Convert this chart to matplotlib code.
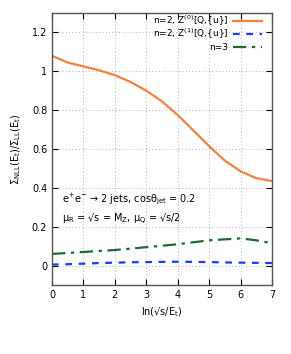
import numpy as np
import matplotlib
matplotlib.use("Agg")
import matplotlib.pyplot as plt

# values
x = [0, 0.5, 1, 1.5, 2, 2.5, 3, 3.5, 4, 4.5, 5, 5.5, 6, 6.5, 7]
z0 = [1.08, 1.045, 1.025, 1.005, 0.98, 0.945, 0.90, 0.845, 0.775, 0.695, 0.615, 0.54, 0.485, 0.45, 0.435]
z1 = [0.005, 0.007, 0.01, 0.013, 0.015, 0.017, 0.018, 0.019, 0.02, 0.019, 0.018, 0.016, 0.015, 0.014, 0.013]
n3 = [0.06, 0.065, 0.07, 0.075, 0.08, 0.087, 0.095, 0.102, 0.11, 0.12, 0.13, 0.135, 0.14, 0.13, 0.115]

labels = [r"n=2, Z$^{(0)}$[Q,{u}]", r"n=2, Z$^{(1)}$[Q,{u}]", "n=3"]
colors = ["#f5813f", "#1a3cff", "#1e6b35"]
styles = ["-", (0, (3, 3)), (0, (6, 2.5, 1.5, 2.5))]

plt.rcParams['font.size'] = 7
plt.rcParams['font.family'] = ['DejaVu Sans']
plt.rcParams['mathtext.default'] = 'regular'

fig = plt.figure(figsize=(2.91, 3.54), dpi=100)
ax = fig.add_axes([0.1787, 0.1949, 0.756, 0.7684])

for ys, c, ls in zip([z0, z1, n3], colors, styles):
    ax.plot(x, ys, color=c, lw=1.6, linestyle=ls)

ax.set_xlim(0, 7)
ax.set_ylim(-0.1, 1.3)
ax.set_xticks(range(8))
ax.set_yticks([0, 0.2, 0.4, 0.6, 0.8, 1, 1.2])
ax.set_yticklabels(["0", "0.2", "0.4", "0.6", "0.8", "1", "1.2"])
ax.grid(True, linestyle=(0, (1, 3)), color="#999999", lw=0.6)
ax.tick_params(direction="in", top=True, right=True, length=4, width=0.8)
for s in ax.spines.values():
    s.set_color("#555555")
    s.set_linewidth(1)

ax.set_xlabel("ln(√s/E$_{t}$)")
ax.set_ylabel("Σ$_{NLL}$(E$_{t}$)/Σ$_{LL}$(E$_{t}$)", labelpad=6)

# gnuplot-style key: right-aligned text, sample to the right
for i, (lab, c, ls) in enumerate(zip(labels, colors, styles)):
    yk = 0.972 - i * 0.049
    ax.text(0.80, yk, lab, transform=ax.transAxes, ha="right", va="center",
            fontsize=6.5)
    ax.plot([0.825, 0.955], [yk, yk], transform=ax.transAxes, color=c, lw=1.6,
            linestyle=ls)

ax.text(0.045, 0.315, "e$^{+}$e$^{-}$ → 2 jets, cosθ$_{jet}$ = 0.2",
        transform=ax.transAxes, ha="left", va="center")
ax.text(0.045, 0.24, "μ$_{R}$ = √s = M$_{Z}$, μ$_{Q}$ = √s/2",
        transform=ax.transAxes, ha="left", va="center")

fig.savefig("out.png", dpi=100)
